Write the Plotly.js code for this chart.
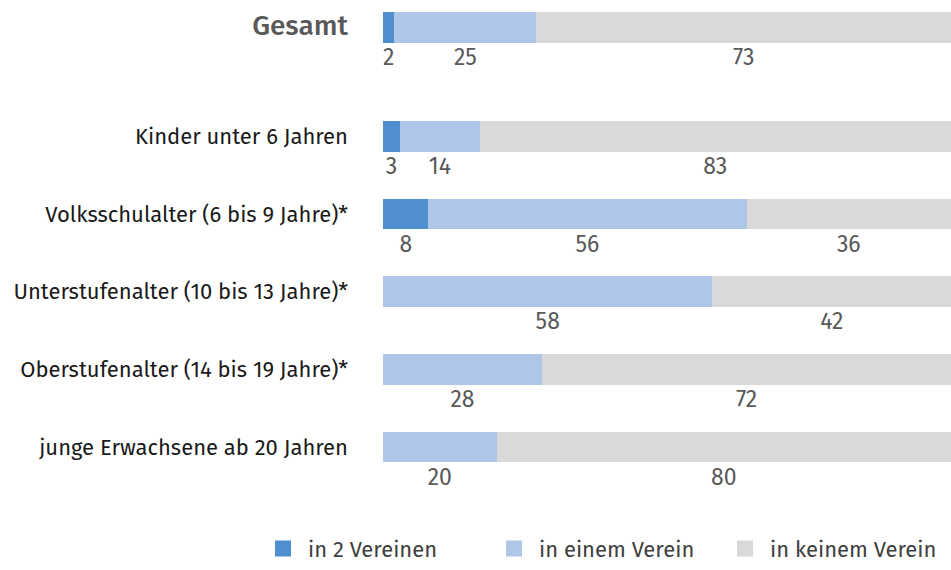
<!DOCTYPE html>
<html>
<head>
<meta charset="utf-8">
<script src="https://cdn.plot.ly/plotly-3.0.1.min.js"></script>
<style>html,body{margin:0;padding:0;background:#fff}#chart{width:951px;height:570px}</style>
</head>
<body>
<div id="chart"></div>
<script>
// Data
const categories = ["Gesamt", "Kinder unter 6 Jahren", "Volksschulalter (6 bis 9 Jahre)*", "Unterstufenalter (10 bis 13 Jahre)*", "Oberstufenalter (14 bis 19 Jahre)*", "junge Erwachsene ab 20 Jahren"];
const seriesNames = ["in 2 Vereinen", "in einem Verein", "in keinem Verein"];
const inZwei = [2, 3, 8, 0, 0, 0];
const inEinem = [25, 14, 56, 58, 28, 20];
const inKeinem = [73, 83, 36, 42, 72, 80];
const colors = ["#4f8fcf", "#afc6e8", "#d9d9d9"];

// Layout positions: Gesamt separated by an extra gap
const yPos = categories.map((c, i) => i === 0 ? 0 : 1.406 + (i - 1));
const tickText = categories.map((c, i) => i === 0 ? "<b>" + c + "</b>" : c);

const series = [inZwei, inEinem, inKeinem];
const traces = [];
const FONT = "Fira Sans, Open Sans, Noto Sans, sans-serif";

series.forEach((vals, s) => {
  traces.push({
    type: "bar", orientation: "h",
    x: vals, y: yPos, width: 0.396,
    marker: {color: colors[s], line: {width: 0}},
    name: seriesNames[s], showlegend: false, hoverinfo: "skip"
  });
});

// Value labels below bars
series.forEach((vals, s) => {
  const xs = [], ys = [], txt = [];
  vals.forEach((v, i) => {
    if (v > 0) {
      let base = 0;
      for (let k = 0; k < s; k++) base += series[k][i];
      xs.push(base + v / 2);
      ys.push(yPos[i] + 0.41);
      txt.push(String(v));
    }
  });
  traces.push({
    type: "scatter", mode: "text", x: xs, y: ys, text: txt,
    textposition: "middle center",
    textfont: {family: FONT, size: 23, color: "#595959"},
    showlegend: false, hoverinfo: "skip", cliponaxis: false
  });
});

// Legend proxies
seriesNames.forEach((n, s) => {
  traces.push({
    type: "scatter", mode: "markers", x: [null], y: [null], name: n,
    marker: {symbol: "square", size: 18, color: colors[s]},
    showlegend: true, hoverinfo: "skip"
  });
});

const layout = {
  width: 951, height: 570,
  margin: {l: 383, r: 0, t: 0, b: 70, pad: 0},
  paper_bgcolor: "#fff", plot_bgcolor: "#fff",
  barmode: "stack",
  font: {family: FONT, color: "#000"},
  xaxis: {range: [0, 100], visible: false, fixedrange: true},
  yaxis: {
    range: [6.038, -0.3514], tickmode: "array", tickvals: yPos, ticktext: tickText,
    showgrid: false, zeroline: false, showline: false, ticks: "",
    ticklabelstandoff: 34,
    tickfont: {family: FONT, size: 22, color: "#1a1a1a"}
  },
  showlegend: true,
  legend: {
    orientation: "h", traceorder: "normal",
    x: -0.203, xanchor: "left", y: -0.106, yanchor: "middle",
    font: {family: FONT, size: 22, color: "#404040"},
    entrywidth: 176, entrywidthmode: "pixels", itemsizing: "trace", itemwidth: 40,
    bgcolor: "rgba(0,0,0,0)"
  }
};

Plotly.newPlot("chart", traces, layout, {displayModeBar: false, staticPlot: true}).then(() => {
  const ticks = document.querySelectorAll(".ytick text");
  if (ticks.length) {
    const g = ticks[0];
    g.style.fontSize = "28px";
    g.style.fill = "#595959";
    g.querySelectorAll("tspan").forEach(t => t.style.fontWeight = "500");
  }
});
</script>
</body>
</html>
